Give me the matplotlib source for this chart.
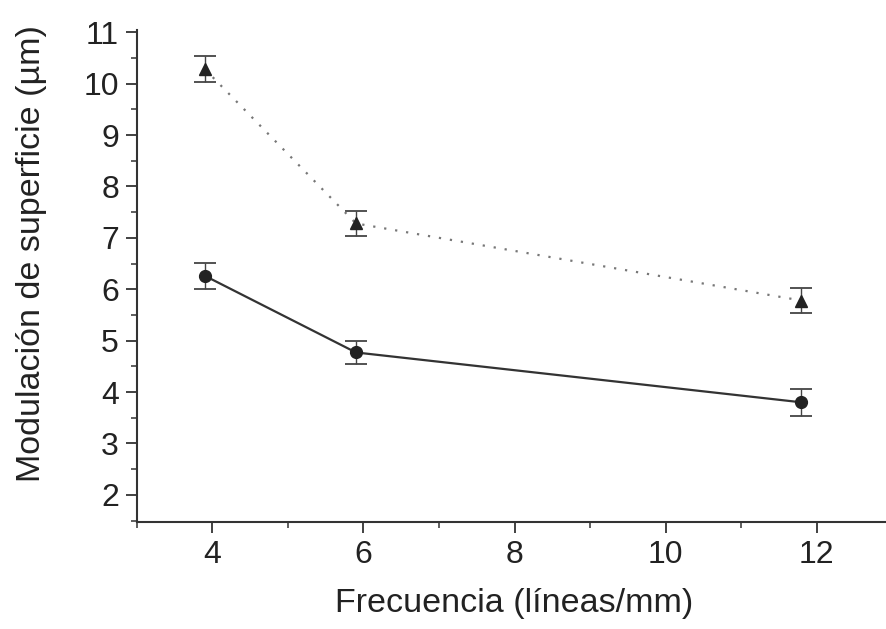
import numpy as np
import matplotlib.pyplot as plt
from matplotlib.ticker import MultipleLocator

plt.rcParams['font.family'] = ['Liberation Sans', 'DejaVu Sans']

freq = [3.9, 5.9, 11.8]
mod_triangle = [10.28, 7.28, 5.78]
err_triangle = [0.25, 0.24, 0.25]
mod_circle = [6.26, 4.77, 3.80]
err_circle = [0.26, 0.22, 0.26]

fig = plt.figure(figsize=(8.86, 6.29), dpi=100)
ax = fig.add_axes([0.1546, 0.170, 0.8454, 0.782])

ax.errorbar(freq, mod_triangle, yerr=err_triangle, fmt='^', color='#222222',
            ecolor='#444444', markersize=8.5, capsize=8, capthick=1.3, elinewidth=1.0)
ax.plot(freq, mod_triangle, linestyle=(0, (1, 4)), color='#777777', linewidth=1.6)

ax.errorbar(freq, mod_circle, yerr=err_circle, fmt='o', color='#222222',
            ecolor='#444444', markersize=8.5, capsize=8, capthick=1.3, elinewidth=1.0)
ax.plot(freq, mod_circle, linestyle='-', color='#333333', linewidth=1.6)

ax.set_xlim(3.0, 12.92)
ax.set_ylim(1.47, 11.04)
ax.set_xticks([4, 6, 8, 10, 12])
ax.xaxis.set_minor_locator(MultipleLocator(1))
ax.set_yticks(np.arange(2, 12, 1))
ax.yaxis.set_minor_locator(MultipleLocator(0.5))

for side in ['top', 'right']:
    ax.spines[side].set_visible(False)
for side in ['left', 'bottom']:
    ax.spines[side].set_linewidth(1.5)
    ax.spines[side].set_color('#333333')

ax.tick_params(which='major', direction='out', length=8, width=1.3,
               labelsize=23, pad=5, colors='#333333', labelcolor='#222222')
ax.tick_params(which='minor', direction='out', length=4, width=1.1, colors='#333333')

ax.set_xlabel('Frecuencia (líneas/mm)', fontsize=24.5, color='#222222')
ax.set_ylabel('Modulación de superficie (µm)', fontsize=24.5, color='#222222')
ax.xaxis.set_label_coords(0.503, -0.134)
ax.yaxis.set_label_coords(-0.120, 0.545)

fig.savefig('out.png', dpi=100)
